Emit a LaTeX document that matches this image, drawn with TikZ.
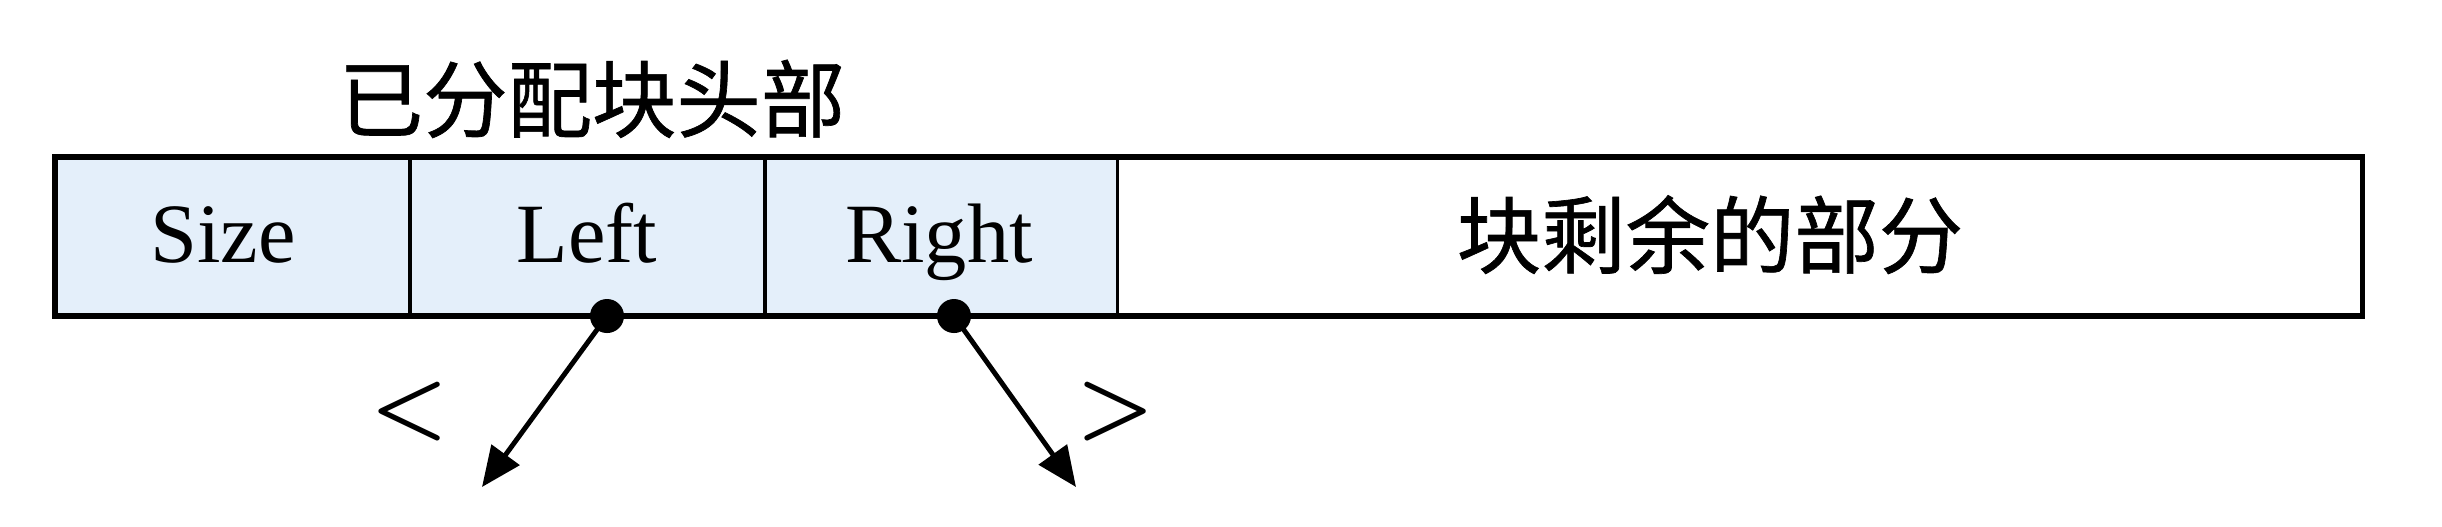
\documentclass[tikz,border=0pt]{standalone}
\usepackage{fontspec}
\setmainfont{Liberation Serif}
\newfontfamily\cjk[FakeBold=0.8]{Noto Sans CJK SC}
\usetikzlibrary{arrows.meta}
\definecolor{cellblue}{RGB}{228,239,250}
\begin{document}
\begin{tikzpicture}[x=0.01cm,y=-0.01cm,
  cell/.style={draw=black,line width=1pt,minimum height=1.59cm,inner sep=0pt,outer sep=0pt},
  hdr/.style={cell,fill=cellblue},
  lat/.style={font=\fontsize{24}{28}\selectfont,anchor=base,inner sep=0pt},
  zh/.style={font=\cjk\fontsize{24}{28}\selectfont,anchor=base,inner sep=0pt},
  cmp/.style={font=\fontsize{24}{28}\selectfont\boldmath,inner sep=0pt},
  dot/.style={circle,fill=black,minimum size=0.34cm,inner sep=0pt},
  ptr/.style={line width=1.4pt,-{Triangle[length=0.4cm,width=0.34cm]}}]
\useasboundingbox (0,0) rectangle (2442,526);
\node[hdr,minimum width=3.55cm] (size) at (232.5,236.5) {};
\node[hdr,minimum width=3.55cm] (left) at (587.5,236.5) {};
\node[hdr,minimum width=3.53cm] (right) at (941.5,236.5) {};
\node[cell,fill=white,minimum width=12.44cm] (rest) at (1740,236.5) {};
\draw[line width=1.6pt] (size.north west) rectangle (rest.south east);
\node[lat] (tsize) at (223,262) {Size};
\node[lat] (tleft) at (587,262) {Left};
\node[lat] (tright) at (939,262) {Right};
\node[zh] (trest) at (1710,267) {块剩余的部分};
\node[zh] (title) at (592,131) {已分配块头部};
\node[dot] (dl) at (607,316) {};
\node[dot] (dr) at (954,316) {};
\coordinate (el) at (482,487);
\coordinate (er) at (1076,487);
\draw[ptr] (dl.center) -- (el);
\draw[ptr] (dr.center) -- (er);
\node[cmp] (lt) at (410,412) {$<$};
\node[cmp] (gt) at (1116,412) {$>$};
\end{tikzpicture}
\end{document}
